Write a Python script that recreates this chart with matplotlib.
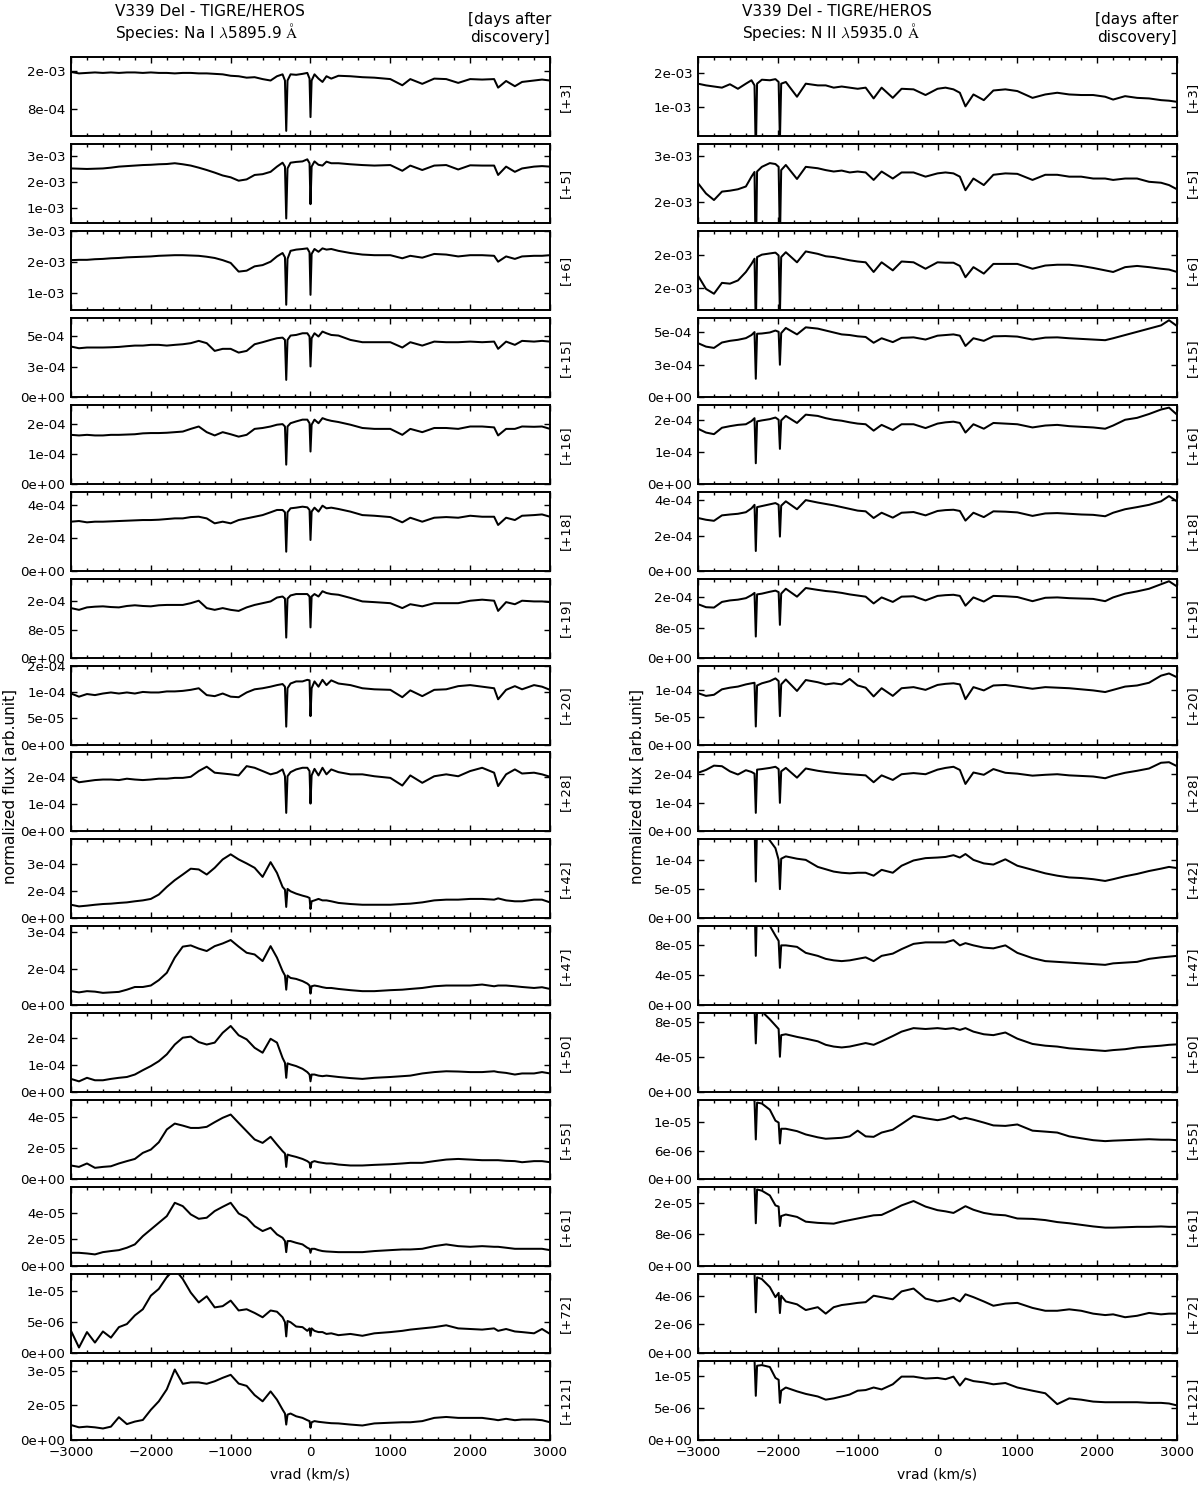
import numpy as np
import matplotlib
matplotlib.use("Agg")
import matplotlib.pyplot as plt
from matplotlib.gridspec import GridSpec
from matplotlib.ticker import MultipleLocator

plt.rcParams.update({
    "font.family": ["DejaVu Sans"],
    "mathtext.fontset": "cm",
    "xtick.direction": "in",
    "ytick.direction": "in",
    "xtick.major.size": 4.5,
    "xtick.minor.size": 2.2,
    "ytick.major.size": 4.5,
    "xtick.major.width": 1.0,
    "xtick.minor.width": 1.0,
    "ytick.major.width": 1.0,
    "xtick.major.pad": 4,
    "ytick.major.pad": 4,
    "axes.linewidth": 1.4,
})

# ---------------- data ----------------
epochs = ["+3", "+5", "+6", "+15", "+16", "+18", "+19", "+20",
          "+28", "+42", "+47", "+50", "+55", "+61", "+72", "+121"]

# flux unit of each row (values below are given in these units)
row_unit = [1e-4, 1e-4, 1e-4, 1e-4, 1e-4, 1e-4, 1e-5, 1e-5,
            1e-4, 1e-5, 1e-5, 1e-5, 1e-6, 1e-6, 1e-6, 1e-6]

# radial velocity samples (km/s), Na I 5895.9 column
vel_na = [-3000, -2900, -2800, -2700, -2600, -2500, -2400, -2300, -2200, -2100,
          -2000, -1900, -1800, -1700, -1600, -1500, -1400, -1300, -1200, -1100,
          -1000, -900, -800, -700, -600, -500, -420, -350, -320, -304,
          -288, -250, -180, -100, -40, -12, 0, 14, 50, 100,
          150, 200, 260, 350, 500, 650, 800, 1000, 1150, 1250,
          1400, 1550, 1700, 1850, 2000, 2150, 2300, 2350, 2450, 2560,
          2650, 2800, 2900, 3000]

na_3 = [15.8, 15.5, 15.6, 15.7, 15.6, 15.7, 15.6, 15.7, 15.7, 15.6,
        15.7, 15.6, 15.6, 15.5, 15.6, 15.6, 15.5, 15.5, 15.4, 15.3,
        15.0, 14.9, 14.6, 14.7, 14.3, 14.0, 14.9, 15.3, 14.0, 3.4,
        14.0, 15.3, 15.2, 15.4, 15.6, 14.4, 6.3, 14.0, 15.3, 14.4,
        13.7, 14.9, 14.4, 15.0, 14.9, 14.7, 14.6, 14.3, 13.0, 14.3,
        13.3, 14.4, 14.3, 13.5, 14.3, 14.2, 14.3, 12.5, 13.9, 12.8,
        13.7, 14.0, 14.2, 14.0]
na_5 = [25.1, 25.0, 24.9, 25.0, 25.1, 25.4, 25.8, 26.0, 26.2, 26.4,
        26.5, 26.7, 26.8, 27.1, 26.7, 26.2, 25.4, 24.5, 23.5, 22.4,
        21.7, 20.4, 20.9, 22.6, 22.9, 23.8, 25.8, 27.3, 25.8, 5.9,
        25.1, 27.3, 27.6, 27.8, 28.6, 27.1, 11.4, 25.8, 27.8, 26.5,
        26.2, 27.7, 27.1, 27.1, 26.7, 26.4, 26.2, 26.4, 24.2, 26.2,
        24.5, 26.2, 26.4, 24.7, 26.3, 26.2, 26.2, 22.6, 25.8, 23.8,
        25.1, 25.8, 26.0, 25.8]
na_6 = [20.6, 20.7, 20.7, 20.9, 21.0, 21.2, 21.3, 21.5, 21.6, 21.7,
        21.8, 22.0, 22.1, 22.2, 22.2, 22.1, 22.0, 21.7, 21.3, 20.6,
        19.7, 16.9, 17.2, 18.6, 19.0, 20.1, 21.8, 22.9, 21.5, 6.2,
        21.0, 23.6, 24.0, 24.2, 24.4, 23.1, 9.4, 22.6, 24.2, 23.3,
        24.4, 24.0, 24.2, 23.6, 22.9, 22.4, 22.2, 22.2, 21.2, 22.0,
        21.4, 22.6, 22.4, 21.8, 22.2, 22.2, 22.0, 20.1, 21.8, 21.0,
        21.8, 22.0, 22.0, 22.2]
na_15 = [4.16, 4.02, 4.08, 4.08, 4.08, 4.10, 4.13, 4.19, 4.24, 4.24,
         4.30, 4.30, 4.24, 4.30, 4.35, 4.44, 4.63, 4.44, 3.80, 3.97,
         3.97, 3.66, 3.80, 4.35, 4.52, 4.71, 4.85, 4.90, 4.71, 1.40,
         4.71, 5.07, 5.12, 5.26, 5.26, 4.99, 2.51, 4.85, 5.26, 4.99,
         5.40, 5.26, 5.12, 5.07, 4.71, 4.52, 4.52, 4.52, 4.08, 4.52,
         4.24, 4.57, 4.52, 4.52, 4.57, 4.52, 4.57, 3.97, 4.57, 4.30,
         4.63, 4.57, 4.63, 4.57]
na_16 = [1.64, 1.62, 1.64, 1.62, 1.62, 1.64, 1.64, 1.65, 1.66, 1.69,
         1.70, 1.70, 1.71, 1.73, 1.75, 1.84, 1.92, 1.73, 1.62, 1.73,
         1.66, 1.58, 1.64, 1.84, 1.87, 1.92, 1.98, 2.00, 1.92, 0.64,
         1.92, 2.03, 2.09, 2.15, 2.15, 2.03, 1.08, 1.98, 2.15, 2.03,
         2.20, 2.15, 2.11, 2.07, 1.98, 1.87, 1.84, 1.84, 1.64, 1.84,
         1.73, 1.87, 1.87, 1.84, 1.92, 1.92, 1.89, 1.62, 1.84, 1.84,
         1.92, 1.91, 1.92, 1.84]
na_18 = [2.97, 3.01, 2.93, 2.97, 2.97, 2.99, 3.01, 3.03, 3.05, 3.07,
         3.07, 3.09, 3.13, 3.17, 3.17, 3.25, 3.27, 3.17, 2.87, 2.97,
         2.87, 3.07, 3.17, 3.27, 3.37, 3.54, 3.68, 3.68, 3.54, 1.15,
         3.54, 3.78, 3.82, 3.88, 3.84, 3.68, 1.86, 3.58, 3.82, 3.58,
         3.94, 3.78, 3.82, 3.74, 3.58, 3.37, 3.33, 3.25, 2.93, 3.21,
         2.97, 3.21, 3.25, 3.21, 3.33, 3.27, 3.27, 2.77, 3.21, 3.07,
         3.33, 3.37, 3.41, 3.27]
na_19 = [14.1, 13.6, 14.3, 14.5, 14.6, 14.4, 14.3, 14.7, 14.9, 14.7,
         14.6, 14.9, 15.0, 15.0, 15.0, 15.5, 16.2, 14.1, 13.6, 14.1,
         13.6, 13.3, 14.3, 15.0, 15.5, 16.0, 17.1, 17.4, 16.8, 5.7,
         16.8, 17.7, 18.1, 18.1, 18.1, 17.4, 8.6, 17.4, 18.1, 17.4,
         18.9, 18.4, 18.1, 17.9, 17.0, 16.0, 15.8, 15.5, 14.1, 15.2,
         14.6, 15.5, 15.5, 15.5, 16.2, 16.5, 16.2, 13.3, 15.8, 15.2,
         16.2, 16.0, 16.0, 15.8]
na_20 = [9.7, 9.1, 9.6, 9.4, 9.7, 9.9, 9.7, 9.9, 9.7, 10.0,
         9.9, 9.9, 10.1, 10.1, 10.2, 10.4, 10.7, 9.4, 9.2, 9.7,
         9.1, 9.0, 9.9, 10.5, 10.7, 11.0, 11.3, 11.5, 11.0, 3.4,
         10.7, 11.6, 12.0, 12.0, 12.3, 12.2, 5.4, 10.7, 12.0, 11.0,
         12.3, 11.3, 12.2, 11.6, 11.3, 10.7, 10.5, 10.4, 9.0, 10.3,
         9.2, 10.4, 10.5, 11.1, 11.3, 11.0, 10.7, 8.6, 10.4, 11.1,
         10.5, 11.3, 11.0, 10.4]
na_28 = [1.96, 1.80, 1.84, 1.88, 1.90, 1.90, 1.88, 1.93, 1.90, 1.88,
         1.90, 1.93, 1.93, 1.96, 1.96, 2.00, 2.21, 2.37, 2.15, 2.12,
         2.09, 2.05, 2.39, 2.33, 2.21, 2.09, 2.15, 2.27, 2.02, 0.68,
         2.02, 2.17, 2.27, 2.33, 2.33, 2.21, 1.02, 2.05, 2.29, 2.05,
         2.33, 2.09, 2.27, 2.17, 2.09, 2.09, 2.02, 1.96, 1.68, 2.05,
         1.78, 2.02, 2.09, 2.02, 2.21, 2.33, 2.15, 1.66, 2.09, 2.27,
         2.12, 2.15, 2.09, 2.00]
na_42 = [7.5, 6.6, 7.0, 7.5, 7.9, 8.1, 8.5, 8.8, 9.4, 9.9,
         10.7, 13.1, 17.3, 21.0, 24.1, 27.3, 26.9, 24.1, 27.8, 32.4,
         35.2, 32.4, 30.2, 27.8, 22.8, 30.9, 25.0, 17.3, 15.8, 6.3,
         16.2, 14.9, 13.6, 12.5, 11.8, 11.2, 5.2, 9.4, 9.9, 10.7,
         9.9, 9.9, 9.4, 8.5, 7.9, 7.5, 7.5, 7.5, 7.9, 8.1,
         8.8, 9.9, 10.3, 10.3, 10.7, 10.7, 10.3, 11.0, 9.9, 9.4,
         9.4, 10.3, 10.3, 8.8]
na_47 = [5.8, 5.3, 5.8, 5.6, 5.1, 5.3, 5.5, 6.4, 7.5, 7.5,
         8.1, 10.3, 13.3, 19.5, 24.0, 24.5, 23.2, 22.2, 24.2, 25.3,
         26.7, 24.0, 21.5, 20.8, 18.1, 24.2, 19.5, 14.0, 12.2, 6.4,
         12.2, 11.2, 10.8, 9.9, 8.9, 8.1, 4.8, 7.8, 8.1, 7.8,
         7.4, 7.1, 7.1, 6.7, 6.2, 5.8, 5.8, 6.2, 6.4, 6.7,
         7.1, 7.8, 8.1, 8.1, 8.1, 8.5, 7.8, 8.1, 8.1, 7.8,
         7.5, 7.1, 7.4, 6.7]
na_50 = [4.9, 4.0, 5.3, 4.4, 4.4, 4.9, 5.3, 5.6, 6.5, 8.1,
         9.6, 11.4, 13.9, 17.5, 20.0, 20.4, 18.4, 17.5, 18.2, 21.8,
         24.3, 20.9, 19.4, 16.3, 14.5, 19.6, 18.2, 12.6, 10.8, 5.3,
         10.6, 10.2, 9.6, 8.6, 7.4, 6.5, 4.0, 6.5, 6.5, 6.1,
         5.9, 6.1, 5.9, 5.6, 5.2, 4.9, 5.3, 5.6, 5.9, 6.1,
         6.9, 7.4, 7.7, 7.6, 7.4, 7.4, 7.7, 7.4, 7.1, 6.5,
         6.9, 6.9, 7.4, 6.9]
na_55 = [8.8, 7.9, 10.1, 7.3, 7.9, 8.3, 10.1, 11.6, 13.0, 16.9,
         19.0, 23.7, 31.9, 35.7, 34.4, 32.9, 32.9, 33.6, 36.6, 39.4,
         41.5, 36.1, 30.8, 25.5, 23.3, 27.2, 22.2, 18.0, 16.5, 7.9,
         15.8, 15.2, 14.3, 13.0, 11.6, 10.5, 7.3, 10.9, 11.6, 10.9,
         10.5, 10.1, 10.1, 9.4, 8.8, 8.8, 9.2, 9.6, 10.1, 10.5,
         10.5, 11.6, 12.6, 13.0, 12.6, 12.2, 12.2, 12.2, 11.8, 11.6,
         10.9, 11.6, 11.6, 10.9]
na_61 = [10.0, 10.0, 9.5, 8.8, 10.5, 11.3, 12.0, 13.8, 16.3, 22.5,
         27.5, 32.5, 37.5, 47.5, 45.0, 38.8, 35.5, 36.3, 41.3, 44.5,
         47.5, 39.5, 36.3, 30.0, 26.3, 28.8, 23.8, 21.3, 18.8, 10.5,
         18.8, 18.8, 17.5, 16.3, 13.8, 13.0, 10.0, 13.0, 13.0, 12.0,
         11.3, 11.0, 10.8, 10.5, 10.5, 10.5, 11.3, 12.0, 12.5, 12.5,
         13.0, 15.0, 16.3, 15.0, 14.5, 15.0, 14.5, 14.5, 13.8, 13.0,
         13.0, 13.0, 13.0, 12.0]
na_72 = [3.6, 0.9, 3.4, 1.7, 3.5, 2.5, 4.2, 4.7, 6.1, 7.1,
         9.3, 10.4, 12.3, 13.6, 12.0, 9.8, 8.2, 9.2, 7.4, 7.6,
         8.5, 6.9, 7.1, 6.5, 5.8, 6.9, 6.7, 5.8, 5.0, 2.7,
         5.2, 5.0, 4.3, 4.2, 3.6, 4.0, 2.8, 4.0, 3.6, 3.4,
         3.4, 3.1, 3.2, 2.9, 3.1, 2.8, 3.2, 3.4, 3.6, 3.8,
         4.0, 4.2, 4.5, 4.0, 3.9, 3.8, 4.0, 3.6, 3.9, 3.5,
         3.4, 3.2, 3.9, 3.1]
na_121 = [6.5, 5.5, 5.8, 5.5, 5.0, 5.8, 9.9, 6.9, 8.0, 8.7,
          13.1, 16.8, 22.0, 30.6, 24.4, 25.0, 25.0, 24.4, 25.5, 27.0,
          28.3, 24.5, 23.5, 19.5, 16.8, 21.1, 17.5, 13.2, 11.5, 6.7,
          11.0, 11.5, 10.3, 9.6, 8.6, 8.2, 5.3, 7.7, 8.2, 7.9,
          7.7, 7.5, 7.3, 7.2, 6.7, 6.3, 7.2, 7.5, 7.7, 7.7,
          8.2, 9.6, 10.0, 9.6, 9.6, 9.6, 8.9, 8.6, 9.2, 8.6,
          8.9, 8.9, 8.6, 7.7]

# radial velocity samples (km/s), N II 5935.0 column
vel_n2 = [-3000, -2900, -2800, -2700, -2600, -2500, -2400, -2330, -2292, -2276,
          -2260, -2200, -2100, -2030, -1990, -1974, -1958, -1900, -1760, -1650,
          -1500, -1400, -1300, -1200, -1100, -1000, -900, -800, -700, -560,
          -450, -300, -150, 0, 100, 200, 280, 350, 450, 580,
          700, 850, 1000, 1190, 1350, 1500, 1650, 1800, 1950, 2100,
          2200, 2350, 2500, 2650, 2800, 2900, 3000]

n2_3 = [16.1, 15.8, 15.6, 15.4, 16.0, 15.2, 16.1, 16.7, 15.8, 3.5,
        16.1, 16.8, 16.7, 16.9, 16.4, 6.0, 16.1, 16.4, 13.8, 16.1,
        15.8, 15.8, 15.4, 15.6, 15.4, 15.2, 15.4, 13.5, 15.4, 13.6,
        15.2, 15.1, 14.1, 15.2, 15.4, 15.1, 14.5, 12.1, 14.2, 13.2,
        14.9, 15.1, 14.8, 13.6, 14.2, 14.5, 14.2, 14.1, 14.1, 13.8,
        13.3, 13.9, 13.6, 13.5, 13.2, 13.1, 12.9]
n2_5 = [24.1, 21.9, 20.5, 22.3, 22.5, 22.8, 23.4, 25.5, 26.5, 5.9,
        26.6, 27.6, 28.4, 28.2, 27.6, 11.4, 26.9, 28.0, 25.0, 27.6,
        27.3, 26.9, 26.6, 26.8, 26.4, 26.6, 26.4, 24.8, 26.6, 25.1,
        26.4, 26.4, 25.5, 26.2, 26.4, 26.2, 25.5, 22.6, 25.1, 23.7,
        25.9, 26.2, 26.1, 24.8, 25.9, 25.9, 25.5, 25.5, 25.1, 25.1,
        24.8, 25.1, 25.1, 24.4, 24.2, 23.7, 22.8]
n2_6 = [19.0, 15.7, 14.5, 17.2, 17.0, 17.8, 19.9, 21.9, 23.2, 6.2,
        23.6, 24.2, 24.5, 24.7, 24.0, 9.4, 23.6, 24.8, 22.3, 25.0,
        24.4, 23.8, 23.6, 23.2, 22.8, 22.5, 22.3, 19.9, 22.3, 20.3,
        22.5, 22.3, 20.7, 22.3, 22.2, 22.2, 21.4, 18.6, 21.1, 19.5,
        21.9, 21.9, 21.9, 20.7, 21.5, 21.7, 21.7, 21.4, 20.9, 20.3,
        19.9, 21.1, 21.4, 21.1, 20.7, 20.5, 19.9]
n2_15 = [4.17, 3.90, 3.80, 4.22, 4.35, 4.43, 4.56, 4.80, 5.03, 1.40,
         4.90, 4.92, 5.00, 5.15, 5.05, 2.49, 4.95, 5.35, 4.85, 5.40,
         5.30, 5.15, 5.00, 4.85, 4.80, 4.70, 4.65, 4.20, 4.55, 4.25,
         4.58, 4.62, 4.45, 4.75, 4.80, 4.85, 4.75, 3.95, 4.55, 4.35,
         4.70, 4.72, 4.68, 4.45, 4.60, 4.62, 4.55, 4.50, 4.45, 4.40,
         4.55, 4.80, 5.05, 5.30, 5.55, 5.95, 5.50]
n2_16 = [1.72, 1.60, 1.55, 1.75, 1.80, 1.84, 1.86, 1.96, 2.05, 0.64,
         1.95, 1.98, 2.02, 2.07, 2.00, 1.09, 1.98, 2.12, 1.90, 2.16,
         2.12, 2.05, 2.00, 1.97, 1.92, 1.88, 1.86, 1.66, 1.84, 1.68,
         1.86, 1.86, 1.74, 1.88, 1.92, 1.94, 1.90, 1.60, 1.86, 1.72,
         1.90, 1.88, 1.86, 1.76, 1.82, 1.84, 1.80, 1.78, 1.76, 1.72,
         1.82, 2.00, 2.06, 2.18, 2.32, 2.38, 2.16]
n2_18 = [3.00, 2.90, 2.84, 3.15, 3.20, 3.24, 3.33, 3.55, 3.75, 1.12,
         3.62, 3.68, 3.78, 3.85, 3.75, 1.94, 3.70, 3.95, 3.50, 4.02,
         3.88, 3.80, 3.72, 3.62, 3.52, 3.42, 3.38, 3.00, 3.30, 3.02,
         3.30, 3.34, 3.15, 3.40, 3.45, 3.47, 3.40, 2.85, 3.30, 3.05,
         3.38, 3.36, 3.32, 3.12, 3.26, 3.28, 3.24, 3.20, 3.18, 3.10,
         3.30, 3.50, 3.62, 3.75, 3.95, 4.25, 3.94]
n2_19 = [14.2, 13.4, 13.3, 14.8, 15.2, 15.4, 15.8, 16.6, 17.2, 5.6,
         16.8, 17.0, 17.5, 17.8, 17.4, 8.7, 17.0, 18.3, 16.2, 18.5,
         18.0, 17.7, 17.5, 17.2, 16.8, 16.5, 16.2, 14.4, 16.0, 14.8,
         16.2, 16.3, 15.2, 16.4, 16.6, 16.7, 16.4, 13.8, 16.0, 14.9,
         16.4, 16.3, 16.1, 15.0, 15.9, 16.0, 15.8, 15.7, 15.6, 15.0,
         16.0, 17.0, 17.6, 18.3, 19.5, 20.3, 18.9]
n2_20 = [9.4, 8.9, 9.1, 10.1, 10.4, 10.6, 11.0, 11.2, 11.3, 3.3,
         10.8, 11.2, 11.6, 12.1, 11.6, 5.2, 11.0, 11.9, 9.8, 11.8,
         11.4, 11.0, 11.2, 11.0, 12.0, 10.8, 10.4, 8.8, 10.3, 8.9,
         10.3, 10.5, 10.0, 10.9, 11.1, 11.2, 11.0, 8.3, 10.5, 9.9,
         10.8, 10.9, 10.6, 10.2, 10.5, 10.4, 10.3, 10.1, 9.9, 9.6,
         10.0, 10.6, 10.8, 11.3, 12.6, 13.0, 12.3]
n2_28 = [2.05, 2.15, 2.30, 2.28, 2.10, 1.99, 2.14, 2.08, 2.02, 0.65,
         2.16, 2.18, 2.22, 2.26, 2.18, 1.00, 2.10, 2.22, 1.88, 2.20,
         2.12, 2.08, 2.05, 2.02, 2.00, 1.98, 1.96, 1.72, 1.96, 1.80,
         2.00, 2.04, 2.00, 2.16, 2.22, 2.26, 2.15, 1.66, 2.06, 1.98,
         2.18, 2.05, 2.02, 1.95, 1.98, 2.00, 1.96, 1.94, 1.92, 1.86,
         1.95, 2.05, 2.12, 2.20, 2.40, 2.42, 2.28]
n2_42 = [35.0, 32.0, 30.0, 27.0, 23.0, 30.0, 25.0, 18.0, 16.0, 6.3,
         16.0, 15.0, 13.3, 12.0, 10.0, 5.0, 10.2, 10.6, 10.2, 10.0,
         8.8, 8.4, 8.0, 7.8, 7.7, 7.8, 7.8, 7.3, 8.3, 7.8,
         9.0, 9.9, 10.3, 10.4, 10.5, 10.8, 10.4, 11.0, 10.0, 9.4,
         9.2, 10.1, 9.0, 8.3, 7.7, 7.3, 7.0, 6.9, 6.7, 6.4,
         6.7, 7.2, 7.6, 8.1, 8.5, 8.8, 8.6]
n2_47 = [28.0, 27.0, 26.0, 24.0, 22.0, 25.0, 20.0, 16.0, 14.0, 6.6,
         13.5, 12.5, 10.6, 9.3, 8.6, 5.0, 8.0, 8.0, 7.8, 7.0,
         6.6, 6.2, 6.0, 5.9, 6.0, 6.2, 6.4, 5.9, 6.6, 6.9,
         7.5, 8.2, 8.4, 8.4, 8.4, 8.7, 8.0, 8.3, 8.0, 7.7,
         7.6, 8.0, 7.0, 6.3, 5.9, 5.8, 5.7, 5.6, 5.5, 5.4,
         5.6, 5.7, 5.8, 6.2, 6.4, 6.5, 6.6]
n2_50 = [20.0, 19.0, 18.0, 16.0, 15.0, 19.0, 14.0, 11.0, 9.5, 5.56,
         9.3, 9.2, 8.3, 7.6, 7.2, 4.04, 6.5, 6.6, 6.3, 6.1,
         5.8, 5.4, 5.2, 5.1, 5.2, 5.4, 5.6, 5.4, 5.8, 6.4,
         6.9, 7.3, 7.2, 7.3, 7.2, 7.3, 7.1, 7.3, 6.9, 6.6,
         6.5, 6.8, 6.1, 5.5, 5.3, 5.2, 5.0, 4.9, 4.8, 4.7,
         4.8, 4.9, 5.1, 5.2, 5.3, 5.4, 5.45]
n2_55 = [41.0, 36.0, 31.0, 26.0, 24.0, 27.0, 22.0, 17.5, 16.4, 8.35,
         16.1, 15.9, 14.6, 12.3, 11.9, 7.5, 10.6, 10.6, 10.1, 9.4,
         8.8, 8.5, 8.6, 8.7, 9.0, 10.2, 9.0, 8.9, 9.8, 10.4,
         11.6, 13.3, 12.8, 12.4, 12.7, 13.3, 12.6, 12.9, 12.5, 11.9,
         11.3, 11.2, 11.5, 10.2, 10.0, 9.8, 9.0, 8.6, 8.2, 8.0,
         8.1, 8.2, 8.3, 8.4, 8.3, 8.3, 8.2]
n2_61 = [48.0, 40.0, 37.0, 31.0, 28.0, 29.0, 24.0, 21.0, 20.5, 10.8,
         19.3, 19.0, 17.8, 15.3, 15.0, 10.1, 12.6, 13.0, 12.4, 11.2,
         10.9, 10.8, 10.7, 11.2, 11.6, 12.0, 12.4, 12.8, 12.9, 14.2,
         15.3, 16.4, 15.0, 14.1, 13.8, 13.4, 14.3, 15.1, 14.2, 13.4,
         13.0, 12.8, 12.0, 11.9, 11.6, 11.1, 10.8, 10.4, 10.0, 9.7,
         9.7, 9.8, 9.9, 9.9, 10.0, 9.9, 9.9]
n2_72 = [8.5, 7.6, 7.1, 6.7, 6.2, 6.9, 6.4, 5.9, 5.6, 2.84,
         5.28, 5.16, 4.6, 3.9, 4.2, 2.79, 4.0, 3.6, 3.4, 3.0,
         3.2, 2.75, 3.2, 3.35, 3.42, 3.5, 3.55, 4.0, 3.9, 3.75,
         4.3, 4.5, 3.8, 3.6, 3.7, 3.85, 3.6, 4.1, 3.9, 3.6,
         3.3, 3.45, 3.5, 3.15, 2.95, 2.95, 3.05, 2.95, 2.75, 2.65,
         2.7, 2.5, 2.6, 2.8, 2.7, 2.75, 2.75]
n2_121 = [28.0, 25.0, 24.0, 20.0, 17.0, 20.0, 16.0, 13.0, 12.5, 6.9,
          11.6, 11.7, 11.4, 9.7, 9.4, 5.8, 7.7, 8.2, 7.6, 7.2,
          6.8, 6.3, 6.5, 6.8, 7.1, 7.7, 7.8, 8.2, 7.9, 8.7,
          9.9, 9.9, 9.6, 9.7, 9.5, 9.9, 8.5, 9.6, 9.2, 9.0,
          8.7, 8.9, 8.2, 7.7, 7.3, 5.6, 6.5, 6.3, 6.0, 5.9,
          5.9, 5.9, 5.9, 5.8, 5.8, 5.7, 5.4]

na_flux = [na_3, na_5, na_6, na_15, na_16, na_18, na_19, na_20,
           na_28, na_42, na_47, na_50, na_55, na_61, na_72, na_121]
n2_flux = [n2_3, n2_5, n2_6, n2_15, n2_16, n2_18, n2_19, n2_20,
           n2_28, n2_42, n2_47, n2_50, n2_55, n2_61, n2_72, n2_121]

# y ranges, tick values (in row units) and tick labels
na_ylim = [(2.32, 18.95), (4.2, 34.5), (4.55, 30.05), (0, 6.54), (0, 2.65), (0, 4.79),
           (0, 22.5), (0, 15.02), (0, 2.89), (0, 43.4), (0, 32.3), (0, 28.96),
           (0, 50.7), (0, 59.25), (0, 12.8), (0, 34.3)]
na_ticks = [[8, 16], [10, 20, 30], [10, 20, 30], [0, 2.5, 5], [0, 1, 2], [0, 2, 4],
            [0, 8, 16], [0, 5, 10, 15], [0, 1, 2], [0, 15, 30], [0, 15, 30], [0, 10, 20],
            [0, 20, 40], [0, 20, 40], [0, 5, 10], [0, 15, 30]]
na_ticklabels = [["8e-04", "2e-03"], ["1e-03", "2e-03", "3e-03"], ["1e-03", "2e-03", "3e-03"],
                 ["0e+00", "3e-04", "5e-04"], ["0e+00", "1e-04", "2e-04"], ["0e+00", "2e-04", "4e-04"],
                 ["0e+00", "8e-05", "2e-04"], ["0e+00", "5e-05", "1e-04", "2e-04"],
                 ["0e+00", "1e-04", "2e-04"], ["0e+00", "2e-04", "3e-04"], ["0e+00", "2e-04", "3e-04"],
                 ["0e+00", "1e-04", "2e-04"], ["0e+00", "2e-05", "4e-05"], ["0e+00", "2e-05", "4e-05"],
                 ["0e+00", "5e-06", "1e-05"], ["0e+00", "2e-05", "3e-05"]]

n2_ylim = [(6.88, 20.8), (15.6, 32.5), (10.5, 30.1), (0, 6.14), (0, 2.47), (0, 4.50),
           (0, 21.0), (0, 14.45), (0, 2.76), (0, 13.5), (0, 10.54), (0, 8.99),
           (0, 16.6), (0, 19.9), (0, 5.51), (0, 12.34)]
n2_ticks = [[12, 18], [20, 30], [16, 24], [0, 2.5, 5], [0, 1, 2], [0, 2, 4],
            [0, 8, 16], [0, 5, 10], [0, 1, 2], [0, 5, 10], [0, 4, 8], [0, 4, 8],
            [0, 6, 12], [0, 8, 16], [0, 2, 4], [0, 5, 10]]
n2_ticklabels = [["1e-03", "2e-03"], ["2e-03", "3e-03"], ["2e-03", "2e-03"],
                 ["0e+00", "3e-04", "5e-04"], ["0e+00", "1e-04", "2e-04"], ["0e+00", "2e-04", "4e-04"],
                 ["0e+00", "8e-05", "2e-04"], ["0e+00", "5e-05", "1e-04"], ["0e+00", "1e-04", "2e-04"],
                 ["0e+00", "5e-05", "1e-04"], ["0e+00", "4e-05", "8e-05"], ["0e+00", "4e-05", "8e-05"],
                 ["0e+00", "6e-06", "1e-05"], ["0e+00", "8e-06", "2e-05"], ["0e+00", "2e-06", "4e-06"],
                 ["0e+00", "5e-06", "1e-05"]]

species = [r"Species: Na I $\lambda$5895.9 $\mathrm{\AA}$",
           r"Species: N II $\lambda$5935.0 $\mathrm{\AA}$"]

# ---------------- figure ----------------
W, H = 1200, 1485
fig = plt.figure(figsize=(W / 100, H / 100), dpi=100)
gs = GridSpec(16, 2, figure=fig,
              left=71 / W, right=1177 / W, top=1 - 57 / H, bottom=1 - 1440 / H,
              wspace=148 / 479, hspace=7.93 / 79)

columns = [
    (vel_na, na_flux, na_ylim, na_ticks, na_ticklabels),
    (vel_n2, n2_flux, n2_ylim, n2_ticks, n2_ticklabels),
]

for c, (vel, fluxes, ylims, ticks, ticklabels) in enumerate(columns):
    for i in range(16):
        ax = fig.add_subplot(gs[i, c])
        u = row_unit[i]
        ax.plot(vel, np.array(fluxes[i]) * u, color="black", lw=1.45)
        ax.set_xlim(-3000, 3000)
        ax.set_ylim(ylims[i][0] * u, ylims[i][1] * u)
        ax.set_yticks(np.array(ticks[i]) * u, labels=ticklabels[i])
        ax.xaxis.set_major_locator(MultipleLocator(1000))
        ax.xaxis.set_minor_locator(MultipleLocator(200))
        ax.tick_params(axis="x", which="both", top=True, bottom=True,
                       labelbottom=(i == 15), labelsize=9.6)
        ax.tick_params(axis="y", which="both", left=True, right=True, labelsize=9.6)
        ax.text(1 + 15 / 479, 0.5, "[" + epochs[i] + "]", transform=ax.transAxes,
                rotation=90, ha="center", va="center", fontsize=9.6)

    x0 = 71 if c == 0 else 698
    fig.text((x0 + 44) / W, 1 - 11.7 / H, "V339 Del - TIGRE/HEROS",
             ha="left", va="center", fontsize=11)
    fig.text((x0 + 44) / W, 1 - 31.7 / H, species[c],
             ha="left", va="center", fontsize=11)
    fig.text((x0 + 439) / W, 1 - 28.5 / H, "[days after\ndiscovery]",
             ha="center", va="center", fontsize=11, multialignment="center")
    fig.text((x0 - 61) / W, 1 - 786 / H, "normalized flux [arb.unit]",
             rotation=90, ha="center", va="center", fontsize=11)
    fig.text((x0 + 239.5) / W, 1 - 1474 / H, "vrad (km/s)",
             ha="center", va="center", fontsize=10)

fig.savefig("out.png", dpi=100)
